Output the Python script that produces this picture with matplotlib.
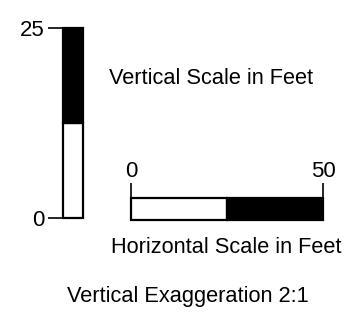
import matplotlib
matplotlib.use("Agg")
import matplotlib.pyplot as plt

plt.rcParams['font.family'] = ['Liberation Sans', 'DejaVu Sans']

# Data
v_segments = [12.5, 12.5]          # vertical scale segments (feet)
v_colors = ['white', 'black']
v_ticks = [0, 25]
v_ticklabels = ['0', '25']

h_segments = [25, 25]              # horizontal scale segments (feet)
h_colors = ['white', 'black']
h_ticks = [0, 50]
h_ticklabels = ['0', '50']

W, H = 361, 312
fig = plt.figure(figsize=(W / 100, H / 100), dpi=100)

FS = 15.7
TFS = 16

# Vertical scale bar
axv = fig.add_axes([63 / W, (H - 218) / H, 20 / W, (218 - 27.7) / H])
bottom = 0
for seg, col in zip(v_segments, v_colors):
    axv.bar([0], [seg], bottom=bottom, width=1, color=col, edgecolor='black',
            linewidth=1.6, clip_on=False)
    bottom += seg
axv.set_xlim(-0.5, 0.5)
axv.set_ylim(0, sum(v_segments))
for s in axv.spines.values():
    s.set_visible(False)
axv.set_xticks([])
axv.set_yticks(v_ticks)
axv.set_yticklabels(v_ticklabels, fontsize=TFS)
axv.tick_params(axis='y', length=10.5, width=1.2, pad=3)

# Horizontal scale bar
axh = fig.add_axes([131 / W, (H - 220) / H, (323 - 131) / W, (220 - 197.7) / H])
left = 0
for seg, col in zip(h_segments, h_colors):
    axh.barh([0], [seg], left=left, height=1, color=col, edgecolor='black',
             linewidth=1.6, clip_on=False)
    left += seg
axh.set_ylim(-0.5, 0.5)
axh.set_xlim(0, sum(h_segments))
for s in axh.spines.values():
    s.set_visible(False)
axh.set_yticks([])
axh.set_xticks(h_ticks)
axh.set_xticklabels(h_ticklabels, fontsize=TFS)
axh.xaxis.tick_top()
axh.tick_params(axis='x', length=10.5, width=1.2, pad=1)

# Captions
fig.text(211 / W, 1 - 84 / H, 'Vertical Scale in Feet', fontsize=FS,
         ha='center', va='baseline')
fig.text(226.5 / W, 1 - 253 / H, 'Horizontal Scale in Feet', fontsize=FS,
         ha='center', va='baseline')
fig.text(188 / W, 1 - 302 / H, 'Vertical Exaggeration 2:1', fontsize=FS,
         ha='center', va='baseline')

fig.savefig('out.png', dpi=100, facecolor='white')
